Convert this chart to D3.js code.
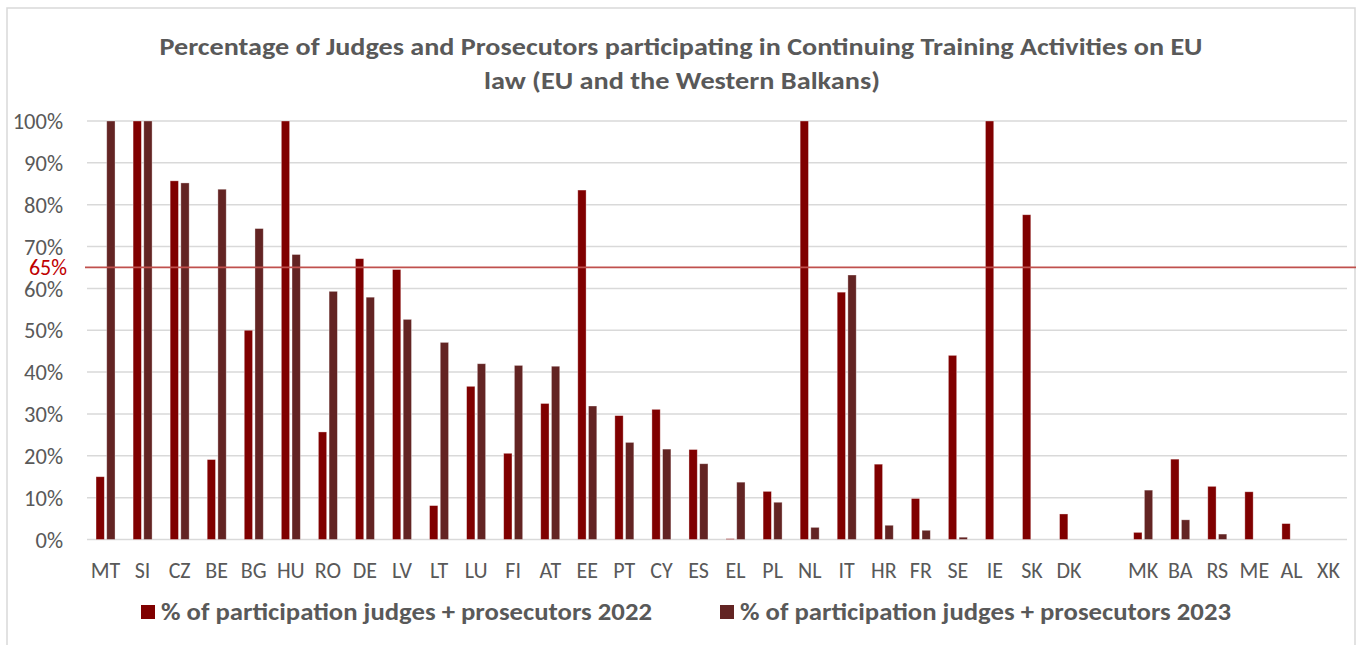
<!DOCTYPE html>
<html>
<head>
<meta charset="utf-8">
<script src="https://cdn.jsdelivr.net/npm/d3@7"></script>
<style>
  html, body { margin: 0; padding: 0; background: #fff; }
  svg { display: block; }
  text { font-family: Carlito, Calibri, "Liberation Sans Narrow", "DejaVu Sans Condensed", sans-serif; }
</style>
</head>
<body>
<svg id="chart" width="1362" height="645"></svg>
<script>
// ---- data ----
const categories = ["MT","SI","CZ","BE","BG","HU","RO","DE","LV","LT","LU","FI","AT","EE","PT","CY","ES","EL","PL","NL","IT","HR","FR","SE","IE","SK","DK","","MK","BA","RS","ME","AL","XK"];
const values2022 = [15.0,100,85.7,19.1,50.0,100,25.7,67.1,64.5,8.1,36.6,20.6,32.5,83.5,29.6,31.1,21.5,0.2,11.5,100,59.1,18.0,9.8,44.0,100,77.6,6.1,null,1.7,19.2,12.7,11.4,3.8,0];
const values2023 = [100,100,85.2,83.7,74.3,68.1,59.3,57.9,52.6,47.1,42.0,41.6,41.4,31.9,23.2,21.6,18.1,13.7,8.9,2.9,63.2,3.4,2.2,0.55,0,0,0,null,11.8,4.7,1.3,0,0,0];
const seriesNames = ["% of participation judges + prosecutors 2022", "% of participation judges + prosecutors 2023"];
const seriesKeys = ["2022", "2023"];
const yTicks = [0,0.1,0.2,0.3,0.4,0.5,0.6,0.7,0.8,0.9,1.0];
const threshold = 0.65;
const titleLines = ["Percentage of Judges and Prosecutors participating in Continuing Training Activities on EU", "law (EU and the Western Balkans)"];

// ---- layout ----
const colors = {"2022": "#800000", "2023": "#632423"};
const svg = d3.select("#chart");
const plotL = 87, plotR = 1347, plotT = 121, plotB = 539.5;
const grey = "#595959";

// frame
svg.append("rect").attr("x", 7).attr("y", 8).attr("width", 1348).attr("height", 660)
  .attr("fill", "#fff").attr("stroke", "#d9d9d9").attr("stroke-width", 1.5);

const x0 = d3.scaleBand().domain(categories.map((c, i) => i)).range([plotL, plotR]).paddingInner(0).paddingOuter(0);
const x1 = d3.scaleBand().domain(seriesKeys).range([-9.5, 9.5]).paddingInner(0.224).paddingOuter(0);
const y = d3.scaleLinear().domain([0, 1]).range([plotB, plotT]);

// gridlines
svg.append("g").selectAll("line").data(yTicks).join("line")
  .attr("x1", plotL).attr("x2", plotR)
  .attr("y1", d => y(d)).attr("y2", d => y(d))
  .attr("stroke", "#d9d9d9").attr("stroke-width", 1.5);

// y axis labels
const yAxis = d3.axisLeft(y).tickValues(yTicks).tickFormat(d3.format(".0%")).tickSize(0).tickPadding(0);
const gy = svg.append("g").attr("transform", `translate(63,0)`).call(yAxis);
gy.select(".domain").remove();
gy.selectAll("text").attr("font-size", 22.5).attr("fill", grey).attr("font-family", null).attr("dy", "0.34em");

// x axis labels
const xAxis = d3.axisBottom(x0).tickFormat(i => categories[i]).tickSize(0).tickPadding(0);
const gx = svg.append("g").attr("transform", `translate(0,559)`).call(xAxis);
gx.select(".domain").remove();
gx.selectAll("text").attr("font-size", 22).attr("fill", grey).attr("font-family", null).attr("dy", "0.85em");

// bars
const rows = categories.map((c, i) => ({i, c, v: {"2022": values2022[i], "2023": values2023[i]}}));
const groups = svg.append("g").selectAll("g").data(rows).join("g")
  .attr("transform", d => `translate(${x0(d.i) + x0.bandwidth() / 2},0)`);
groups.selectAll("rect").data(d => seriesKeys.map(k => ({k, v: d.v[k]})).filter(e => e.v != null && e.v > 0))
  .join("rect")
  .attr("x", e => x1(e.k))
  .attr("width", x1.bandwidth())
  .attr("y", e => y(e.v / 100))
  .attr("height", e => y(0) - y(e.v / 100))
  .attr("fill", e => colors[e.k])
  .attr("stroke", "rgba(255,255,255,0.45)").attr("stroke-width", 0.75);

// threshold line
svg.append("line").attr("x1", 85).attr("x2", 1356)
  .attr("y1", y(threshold)).attr("y2", y(threshold))
  .attr("stroke", "#c0504d").attr("stroke-width", 1.75);
svg.append("text").attr("x", 67).attr("y", y(threshold)).attr("dy", "0.34em")
  .attr("text-anchor", "end").attr("font-size", 22).attr("fill", "#c00000")
  .text(d3.format(".0%")(threshold));

// title
svg.append("text").attr("x", 681).attr("y", 55).attr("text-anchor", "middle")
  .attr("font-size", 24.5).attr("font-weight", "bold").attr("fill", grey)
  .attr("textLength", 1043).attr("lengthAdjust", "spacingAndGlyphs")
  .text(titleLines[0]);
svg.append("text").attr("x", 682).attr("y", 89).attr("text-anchor", "middle")
  .attr("font-size", 24.5).attr("font-weight", "bold").attr("fill", grey)
  .attr("textLength", 396).attr("lengthAdjust", "spacingAndGlyphs")
  .text(titleLines[1]);

// legend
const legendX = [141, 720];
const legendW = [491, 491];
seriesKeys.forEach((k, i) => {
  svg.append("rect").attr("x", legendX[i]).attr("y", 605).attr("width", 14).attr("height", 14).attr("fill", colors[k]);
  svg.append("text").attr("x", legendX[i] + 20).attr("y", 620)
    .attr("font-size", 24.5).attr("font-weight", "bold").attr("fill", grey)
    .attr("textLength", legendW[i]).attr("lengthAdjust", "spacingAndGlyphs")
    .text(seriesNames[i]);
});
</script>
</body>
</html>
